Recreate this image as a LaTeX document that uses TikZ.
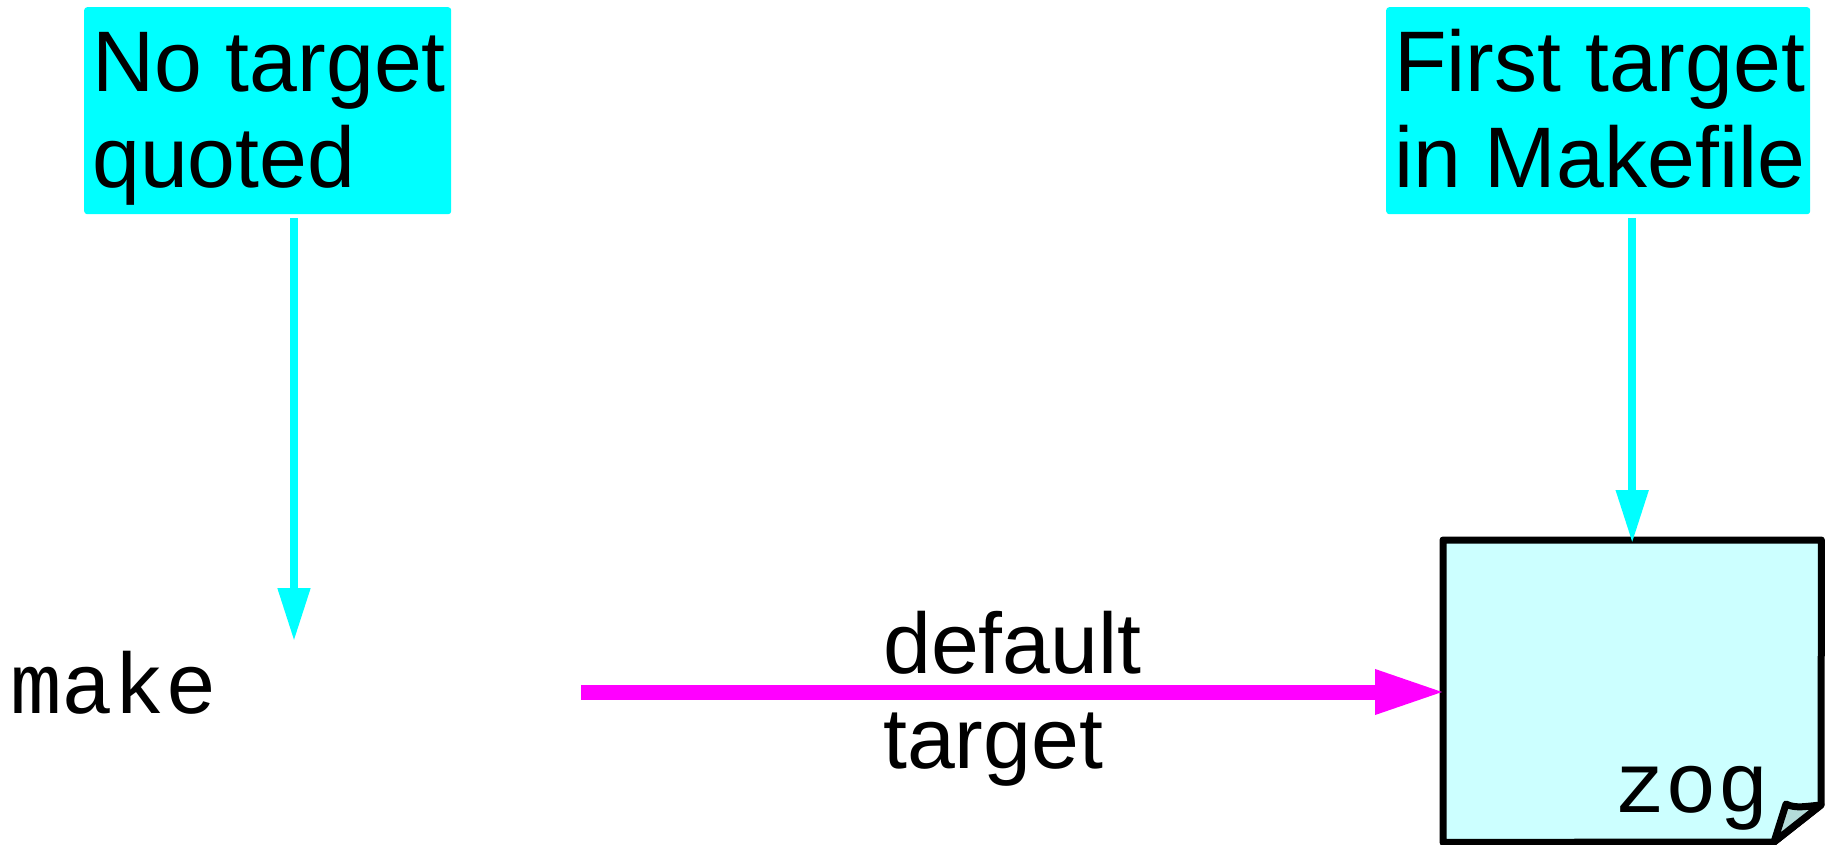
\documentclass[tikz,border=0pt]{standalone}
\usepackage{fontspec}
\setmainfont{Liberation Sans}
\setmonofont{Liberation Mono}
\usetikzlibrary{arrows.meta}
\definecolor{cy}{HTML}{00FFFF}
\definecolor{mg}{HTML}{FF00FF}
\definecolor{pale}{HTML}{CCFFFF}
\definecolor{foldc}{HTML}{B3DCD9}
\tikzset{
  x=1pt,y=-1pt,
  note/.style={fill=cy,rounded corners=3pt,inner sep=0pt,anchor=north west},
  lbl/.style={anchor=base west,inner sep=0pt,font=\fontsize{86}{96}\selectfont},
  code/.style={anchor=base west,inner sep=0pt,font=\fontsize{86}{96}\selectfont\ttfamily},
  cyarrow/.style={draw=cy,line width=8pt,shorten <=4pt,shorten >=-3pt,-{Triangle[length=53pt,width=31pt,fill=cy]}},
  mgarrow/.style={draw=mg,line width=15pt,-{Triangle[length=71pt,width=41pt,fill=mg]}},
  docline/.style={draw=black,line width=7pt,line join=round},
}
\begin{document}
\begin{tikzpicture}
\useasboundingbox (0,0) rectangle (1825,845);
\node[note,minimum width=367pt,minimum height=207pt] (b1) at (84,7) {};
\node[note,minimum width=424pt,minimum height=207pt] (b2) at (1386,7) {};
\node[lbl] (t1a) at (92,92) {No target};
\node[lbl] (t1b) at (92,188) {quoted};
\node[lbl] (t2a) at (1394,92) {First target};
\node[lbl] (t2b) at (1394,188) {in Makefile};
% document shape
\node[inner sep=0pt,minimum width=378pt,minimum height=302pt,anchor=north west] (doc) at (1443,540) {};
\coordinate (f1) at (1774,842);
\coordinate (f2) at (1821,805);
\coordinate (f3) at (1786,804);
\path[docline,fill=pale] (doc.north west) -- (doc.north east) -- (f2) -- (f1) -- (doc.south west) -- cycle;
\path[docline,fill=foldc] (f1) -- (f3) .. controls (1795,809) and (1808,806) .. (f2) -- cycle;
\node[code] (zog) at (1614,812) {zog};
\node[code] (mk) at (10,713) {make};
\node[lbl] (d1) at (883,673) {default};
\node[lbl] (d2) at (883,768) {target};
\coordinate (tipL) at (294,638);
\coordinate (startM) at (581,692);
\coordinate (endM) at (1446,692);
\draw[cyarrow] (b1.south -| tipL) -- (tipL);
\draw[cyarrow] (b2.south -| doc.north) -- (doc.north);
\draw[mgarrow] (startM) -- (endM);
\end{tikzpicture}
\end{document}
